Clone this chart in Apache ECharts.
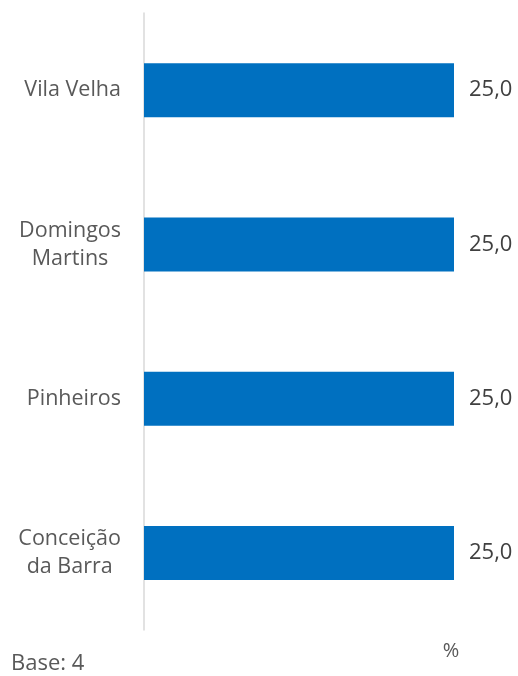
<!DOCTYPE html>
<html><head><meta charset="utf-8">
<script src="https://cdn.jsdelivr.net/npm/echarts@6/dist/echarts.min.js"></script>
<style>html,body{margin:0;padding:0;background:#fff}#c{width:518px;height:676px}</style>
</head><body><div id="c"></div>
<script>
var categories = ['Vila Velha', 'Domingos\nMartins', 'Pinheiros', 'Conceição\nda Barra'];
var values = [25.0, 25.0, 25.0, 25.0];
var unitLabel = '%';
var baseLabel = 'Base: 4';

var chart = echarts.init(document.getElementById('c'));
chart.setOption({
  animation: false,
  grid: {left: 144, right: 64, top: 13, bottom: 46, containLabel: false},
  xAxis: {type: 'value', min: 0, max: 25, show: false},
  yAxis: {
    type: 'category', data: categories, inverse: true,
    axisLine: {show: true, lineStyle: {color: '#d9d9d9', width: 1.5}},
    axisTick: {show: false},
    axisLabel: {
      margin: 23, fontFamily: 'Open Sans', fontSize: 21.5, color: '#595959',
      lineHeight: 28,
      formatter: function (v) { return v.split('\n').map(function (s) { return '{c|' + s + '}'; }).join('\n'); },
      rich: {c: {align: 'center', fontFamily: 'Open Sans', fontSize: 21.5, color: '#595959', lineHeight: 28}}
    }
  },
  series: [{
    type: 'bar', data: values, barWidth: 54,
    itemStyle: {color: '#0070C0'},
    label: {show: true, position: 'right', distance: 15, fontFamily: 'Open Sans', fontSize: 22, color: '#404040',
      formatter: function (p) { return p.value.toFixed(1).replace('.', ','); }}
  }],
  graphic: [
    {type: 'text', x: 451, y: 651, style: {text: unitLabel, font: '20px "Open Sans"', fill: '#595959', align: 'center', verticalAlign: 'middle'}},
    {type: 'text', x: 11, y: 664, style: {text: baseLabel, font: '22px "Open Sans"', fill: '#595959', align: 'left', verticalAlign: 'middle'}}
  ]
});
</script></body></html>
